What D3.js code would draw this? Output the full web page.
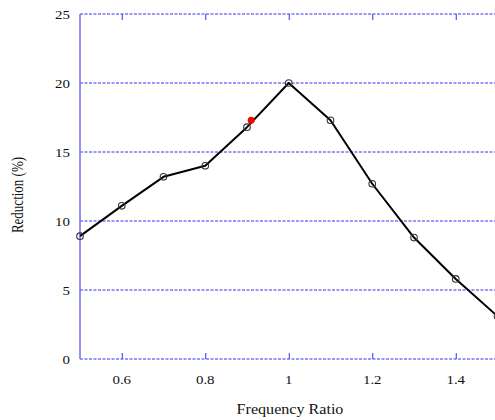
<!DOCTYPE html>
<html>
<head>
<meta charset="utf-8">
<script src="https://cdn.jsdelivr.net/npm/d3@7"></script>
<style>
  html, body { margin: 0; padding: 0; background: #fff; overflow: hidden; }
  svg { display: block; font-family: "Liberation Serif", "Times New Roman", serif; }
</style>
</head>
<body>
<svg id="chart" width="495" height="420"></svg>
<script>
// Reduction measured against frequency ratio
const freqRatio = [0.5, 0.6, 0.7, 0.8, 0.9, 1.0, 1.1, 1.2, 1.3, 1.4, 1.5];
const reduction = [8.9, 11.1, 13.2, 14.0, 16.8, 20.0, 17.3, 12.7, 8.8, 5.8, 3.1];
// Highlighted operating point
const markX = [0.91];
const markY = [17.3];
const xTicks = [0.6, 0.8, 1.0, 1.2, 1.4];
const yTicks = [0, 5, 10, 15, 20, 25];

(function () {
  const svg = d3.select("#chart");
  const plotLeft = 80, plotRight = 497.5, plotTop = 14, plotBottom = 359;
  const textColor = "#111";
  const wide = 1.15; // horizontal stretch applied to all lettering

  const x = d3.scaleLinear().domain([0.5, 1.5]).range([plotLeft, plotRight]);
  const y = d3.scaleLinear().domain([0, 25]).range([plotBottom, plotTop]);

  const axisBlue = "#3333ee";

  // dashed horizontal grid lines
  svg.append("g")
    .selectAll("line")
    .data(yTicks)
    .join("line")
    .attr("x1", plotLeft).attr("x2", plotRight)
    .attr("y1", d => y(d)).attr("y2", d => y(d))
    .attr("stroke", axisBlue)
    .attr("stroke-width", 1)
    .attr("stroke-dasharray", "3,1.5");

  // left axis line
  svg.append("line")
    .attr("x1", plotLeft).attr("x2", plotLeft)
    .attr("y1", plotTop).attr("y2", plotBottom)
    .attr("stroke", "#7777f5")
    .attr("stroke-width", 1.6);

  // bottom and top axes: inward ticks (labels drawn separately)
  const xAxisBottom = d3.axisBottom(x).tickValues(xTicks).tickSize(-6).tickFormat("");
  const gb = svg.append("g").attr("transform", `translate(0,${plotBottom})`).call(xAxisBottom);
  gb.select(".domain").remove();
  gb.selectAll(".tick line").attr("stroke", axisBlue).attr("stroke-width", 1);

  const xAxisTop = d3.axisTop(x).tickValues(xTicks).tickSize(-6).tickFormat("");
  const gt = svg.append("g").attr("transform", `translate(0,${plotTop})`).call(xAxisTop);
  gt.select(".domain").remove();
  gt.selectAll(".tick line").attr("stroke", axisBlue).attr("stroke-width", 1);

  // x tick labels
  svg.append("g")
    .selectAll("text")
    .data(xTicks)
    .join("text")
    .attr("transform", d => `translate(${x(d)},${plotBottom + 25}) scale(${wide},1)`)
    .attr("text-anchor", "middle")
    .attr("font-size", 13)
    .attr("fill", textColor)
    .text(d => String(+d.toFixed(1)));

  // y tick labels
  svg.append("g")
    .selectAll("text")
    .data(yTicks)
    .join("text")
    .attr("transform", d => `translate(${plotLeft - 10},${y(d) + 4.5}) scale(${wide},1)`)
    .attr("text-anchor", "end")
    .attr("font-size", 13)
    .attr("fill", textColor)
    .text(d => d);

  // data line
  const pts = freqRatio.map((f, i) => [f, reduction[i]]);
  svg.append("path")
    .datum(pts)
    .attr("fill", "none")
    .attr("stroke", "#000")
    .attr("stroke-width", 2)
    .attr("stroke-linejoin", "round")
    .attr("d", d3.line().x(d => x(d[0])).y(d => y(d[1])));

  // open circle markers
  svg.append("g")
    .selectAll("circle")
    .data(pts)
    .join("circle")
    .attr("cx", d => x(d[0]))
    .attr("cy", d => y(d[1]))
    .attr("r", 3.3)
    .attr("fill", "none")
    .attr("stroke", "#333")
    .attr("stroke-width", 1.1);

  // red marker
  svg.append("g")
    .selectAll("circle")
    .data(markX.map((f, i) => [f, markY[i]]))
    .join("circle")
    .attr("cx", d => x(d[0]))
    .attr("cy", d => y(d[1]))
    .attr("r", 3.5)
    .attr("fill", "#ff0000");

  // axis titles
  svg.append("text")
    .attr("transform", `translate(290,414) scale(${wide},1)`)
    .attr("text-anchor", "middle")
    .attr("font-size", 14)
    .attr("fill", textColor)
    .text("Frequency Ratio");

  svg.append("text")
    .attr("transform", "translate(23,195) scale(1.25,1) rotate(-90)")
    .attr("text-anchor", "middle")
    .attr("font-size", 13)
    .attr("fill", textColor)
    .text("Reduction (%)");
})();
</script>
</body>
</html>
